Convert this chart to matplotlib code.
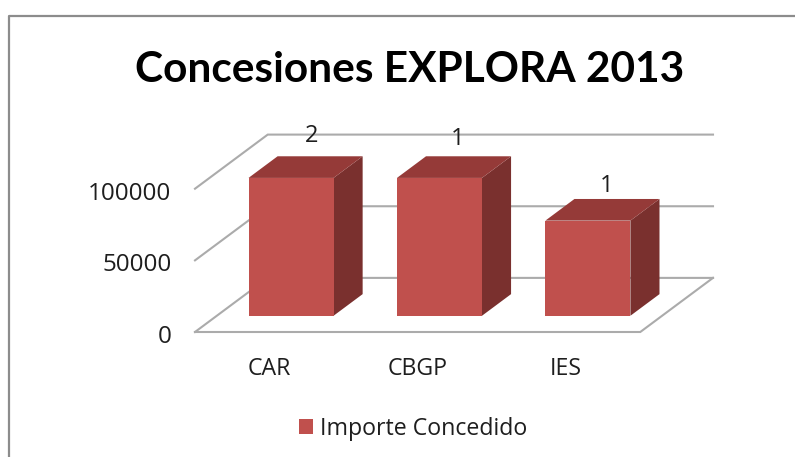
import matplotlib
matplotlib.use("Agg")
import matplotlib.pyplot as plt
from matplotlib.patches import Polygon, Rectangle
from matplotlib.lines import Line2D
from matplotlib.transforms import ScaledTranslation

categories = ["CAR", "CBGP", "IES"]
importe_concedido = [96200, 96200, 66400]
bar_labels = ["2", "1", "1"]
y_ticks = [0, 50000, 100000]
series_name = "Importe Concedido"
chart_title = "Concesiones EXPLORA 2013"

W, H = 795, 457
DPI = 100
FRONT = "#C0504D"
TOP = "#953A38"
SIDE = "#7A302E"
GRID = "#ABABAB"
TXT = "#1E1E1E"
BORDER = "#8C8C8C"
LABEL_FONT = "Open Sans"
PX = 72 / DPI

fig = plt.figure(figsize=(W / DPI, H / DPI), dpi=DPI, facecolor="white")

L, R, BOT, TOPPX = 195.0, 713.0, 332.0, 134.6
ax = fig.add_axes([L / W, 1 - BOT / H, (R - L) / W, (BOT - TOPPX) / H])
depth_x = 73 / (447 / 3)
depth_y = 54 / 71.5 * 50000
ax.set_xlim(-0.5, len(categories) - 0.5 + depth_x)
ax.set_ylim(0, max(y_ticks) + depth_y)
for s in ax.spines.values():
    s.set_visible(False)
ax.patch.set_alpha(0)
x0 = -0.5
x1 = len(categories) - 0.5

# walls and floor
for v in y_ticks:
    ax.plot([x0, x0 + depth_x, x1 + depth_x], [v, v + depth_y, v + depth_y],
            color=GRID, lw=1.5, clip_on=False, zorder=1, solid_joinstyle="miter")
ax.plot([x0, x1, x1 + depth_x], [0, 0, depth_y], color=GRID, lw=1.5,
        clip_on=False, zorder=1, solid_joinstyle="miter")

# bars
bar_w = 0.573
d0, d1 = 0.30, 0.70
label_rise = [20, 17, 13]
label_shift = [-9, -11, -10]
for i, v in enumerate(importe_concedido):
    xl = i - bar_w / 2 + d0 * depth_x
    xr = i + bar_w / 2 + d0 * depth_x
    yb = d0 * depth_y
    yt = yb + v
    ddx = (d1 - d0) * depth_x
    ddy = (d1 - d0) * depth_y
    ax.add_patch(Polygon([(xr, yb), (xr + ddx, yb + ddy), (xr + ddx, yt + ddy), (xr, yt)],
                         fc=SIDE, ec="none", zorder=3))
    ax.add_patch(Polygon([(xl, yt), (xr, yt), (xr + ddx, yt + ddy), (xl + ddx, yt + ddy)],
                         fc=TOP, ec="none", zorder=3))
    ax.add_patch(Rectangle((xl, yb), xr - xl, v, fc=FRONT, ec="none", zorder=4))
    ax.annotate(bar_labels[i], ((xl + xr) / 2 + ddx, yt + ddy),
                xytext=(label_shift[i] * PX, label_rise[i] * PX),
                textcoords="offset points", ha="center", va="center",
                fontsize=17, color=TXT, family=LABEL_FONT, zorder=5)

# axes tick labels
ax.set_xticks(range(len(categories)), categories)
ax.set_yticks(y_ticks, [str(v) for v in y_ticks])
ax.tick_params(axis="both", length=0, labelcolor=TXT)
ax.tick_params(axis="y", pad=17, labelsize=17.5)
ax.tick_params(axis="x", pad=18, labelsize=16.7)
for t in ax.get_xticklabels() + ax.get_yticklabels():
    t.set_family(LABEL_FONT)
nudge = ScaledTranslation(0, -2 / DPI, fig.dpi_scale_trans)
for t in ax.get_yticklabels():
    t.set_transform(t.get_transform() + nudge)

# title
fig.text(410 / W, 1 - 70 / H, chart_title, ha="center", va="center",
         fontsize=30.5, fontweight="bold", family="Lato", color="black")

# legend
handle = Rectangle((0, 0), 1, 1, fc=FRONT, ec="none")
fig.legend([handle], [series_name], loc="center", bbox_to_anchor=(413 / W, 1 - 429 / H),
           frameon=False, prop={"family": LABEL_FONT, "size": 16.7}, labelcolor=TXT,
           handlelength=0.62, handleheight=0.62, handletextpad=0.3)

# chart border: left and top edges only reach the picture, the rest is cropped
fig.add_artist(Line2D([9 / W, 9 / W, 1], [0, 1 - 16 / H, 1 - 16 / H], color=BORDER, lw=1.6))

fig.savefig("out.png", dpi=DPI, facecolor="white")
